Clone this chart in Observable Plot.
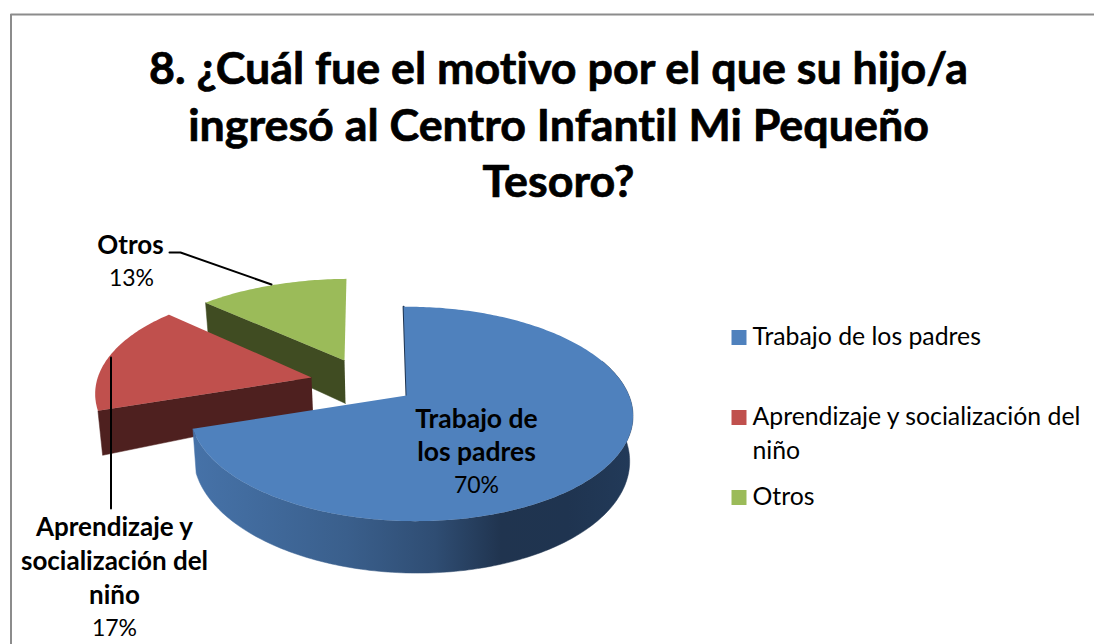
<!DOCTYPE html>
<html>
<head>
<meta charset="utf-8">
<style>html,body{margin:0;padding:0;background:#fff}svg{display:block}</style>
<script src="https://cdn.jsdelivr.net/npm/d3@7"></script>
<script src="https://cdn.jsdelivr.net/npm/@observablehq/plot@0.6"></script>
</head>
<body>
<div id="plot"></div>
<script>
const categories = ["Trabajo de los padres", "Aprendizaje y socialización del niño", "Otros"];
const values = [70, 17, 13];
const colours = ["#4f81bd", "#c0504d", "#9bbb59"];
const titleLines = ["8. ¿Cuál fue el motivo por el que su hijo/a", "ingresó al Centro Infantil Mi Pequeño", "Tesoro?"];

// layout of the exploded perspective pie: each slice's apex, vertical scale, shear, apex depth
const layout = [
  {o: [406, 395], sy: 1, shear: 3.4, apexDepth: 40},
  {o: [311, 377], sy: 1, shear: 3.4, apexDepth: 35},
  {o: [344, 360], sy: 0.92, shear: -2.3, apexDepth: 43}
];
const W = 1094, H = 644, FONT = "Lato, Carlito, sans-serif";
const rad = d => d * Math.PI / 180;
function rim(s, deg) {
  const u = Math.sin(rad(deg)), v = Math.cos(rad(deg)), w = 1 + 0.172 * v - 0.02 * u;
  return {x: s.o[0] + (218 * u - s.shear * v) / w, y: s.o[1] - s.sy * 104 * v / w, w};
}
function lowerRim(s, deg) {
  const p = rim(s, deg);
  return {x: 410 + (p.x - 410) * 0.985, y: p.y + 43 / p.w};
}
function apexBottom(s) { return {x: 410 + (s.o[0] - 410) * 0.985, y: s.o[1] + s.apexDepth}; }
const arc = (a, b) => d3.range(a, b, 1).concat([b]);

let acc = 0;
const slices = categories.map((name, i) => {
  const a = acc * 3.6; acc += values[i];
  return {name, a, b: acc * 3.6, ...layout[i]};
});
const [blueSlice, redSlice, greenSlice] = slices;

const face = s => [{x: s.o[0], y: s.o[1]}, ...arc(s.a, s.b).map(d => rim(s, d))].map(p => ({...p, name: s.name}));
const cut = (s, deg) => [{x: s.o[0], y: s.o[1]}, rim(s, deg), lowerRim(s, deg), apexBottom(s)];
const wall = (s, a, b) => [...arc(a, b).map(d => rim(s, d)), ...arc(a, b).reverse().map(d => lowerRim(s, d))];
const poly = (pts, fill) => Plot.line(pts, {x: "x", y: "y", fill, stroke: fill, strokeWidth: 0.5});
const faceMark = s => Plot.line(face(s), {x: "x", y: "y", fill: "name", z: "name", stroke: null});

const defs = () => {
  const d = d3.create("svg:defs");
  const g = d.append("linearGradient").attr("id", "wallGrad")
    .attr("gradientUnits", "userSpaceOnUse").attr("x1", 192).attr("x2", 633).attr("y1", 0).attr("y2", 0);
  [[0, "#4672a8"], [0.12, "#426c9f"], [0.35, "#3a5f8c"], [0.55, "#2f4d73"], [0.7, "#20344f"], [0.85, "#1f3450"], [1, "#223a59"]]
    .forEach(([o, c]) => g.append("stop").attr("offset", o).attr("stop-color", c));
  return d.node();
};

const label = (str, x, y, fontSize, fontWeight = "normal", textAnchor = "middle") =>
  Plot.text([str], {text: d => d, x: () => x, y: () => y, fontSize, fontWeight, fontFamily: FONT, textAnchor, fill: "#000"});
// Calibri's bold is heavier than Lato's at this size
const heavy = (str, x, y, fontSize) =>
  Plot.text([str], {text: d => d, x: () => x, y: () => y, fontSize, fontWeight: "bold", fontFamily: FONT, fill: "#000", stroke: "#000", strokeWidth: 0.7});

const legendRows = [[categories[0], 337], [categories[1], 417], [categories[2], 497]];

const figure = Plot.plot({
  width: W, height: H, margin: 0,
  style: {fontVariantLigatures: "none", background: "#fff"},
  x: {domain: [0, W], range: [0, W], axis: null},
  y: {domain: [0, H], range: [0, H], axis: null},
  color: {domain: categories, range: colours},
  marks: [
    defs,
    // chart border (open on the right and bottom)
    Plot.line([{x: 10.5, y: H}, {x: 10.5, y: 14}, {x: W, y: 14}], {x: "x", y: "y", stroke: "#8c8c8c", strokeWidth: 2}),
    // title
    heavy(titleLines[0], 558, 69, 44.8),
    heavy(titleLines[1], 558, 126, 44.8),
    heavy(titleLines[2], 558, 182, 44.8),
    // green slice
    poly(cut(greenSlice, greenSlice.a), "#404c22"),
    faceMark(greenSlice),
    // red slice
    poly(cut(redSlice, redSlice.a), "#4e201f"),
    faceMark(redSlice),
    // blue slice
    poly(wall(blueSlice, 70, blueSlice.b), "url(#wallGrad)"),
    Plot.line([rim(blueSlice, 0), {x: blueSlice.o[0], y: blueSlice.o[1]}], {x: "x", y: "y", stroke: "#1f3450", strokeWidth: 2}),
    faceMark(blueSlice),
    // leader lines
    Plot.line([{x: 169, y: 252}, {x: 180, y: 252}, {x: 271, y: 284}], {x: "x", y: "y", stroke: "#000", strokeWidth: 2}),
    Plot.line([{x: 110.5, y: 357}, {x: 110.5, y: 508}], {x: "x", y: "y", stroke: "#000", strokeWidth: 2}),
    // data labels
    label("Otros", 130, 245, 26, "bold"),
    label(values[2] + "%", 131, 278, 23),
    label("Trabajo de", 476, 419, 26.5, "bold"),
    label("los padres", 476, 452, 26.5, "bold"),
    label(values[0] + "%", 476, 485, 23),
    label("Aprendizaje y", 114, 527, 26, "bold"),
    label("socialización del", 114, 561, 26, "bold"),
    label("niño", 114, 595, 26, "bold"),
    label(values[1] + "%", 114, 628, 23),
    // legend
    Plot.dot(legendRows, {x: () => 738.5, y: d => d[1], fill: d => d[0], symbol: "square", r: 8.46}),
    label("Trabajo de los padres", 752, 337, 24.8, "normal", "start"),
    label("Aprendizaje y socialización del", 752, 417, 24.8, "normal", "start"),
    label("niño", 752, 451, 24.8, "normal", "start"),
    label("Otros", 752, 497, 24.8, "normal", "start")
  ]
});
document.getElementById("plot").append(figure);
</script>
</body>
</html>
